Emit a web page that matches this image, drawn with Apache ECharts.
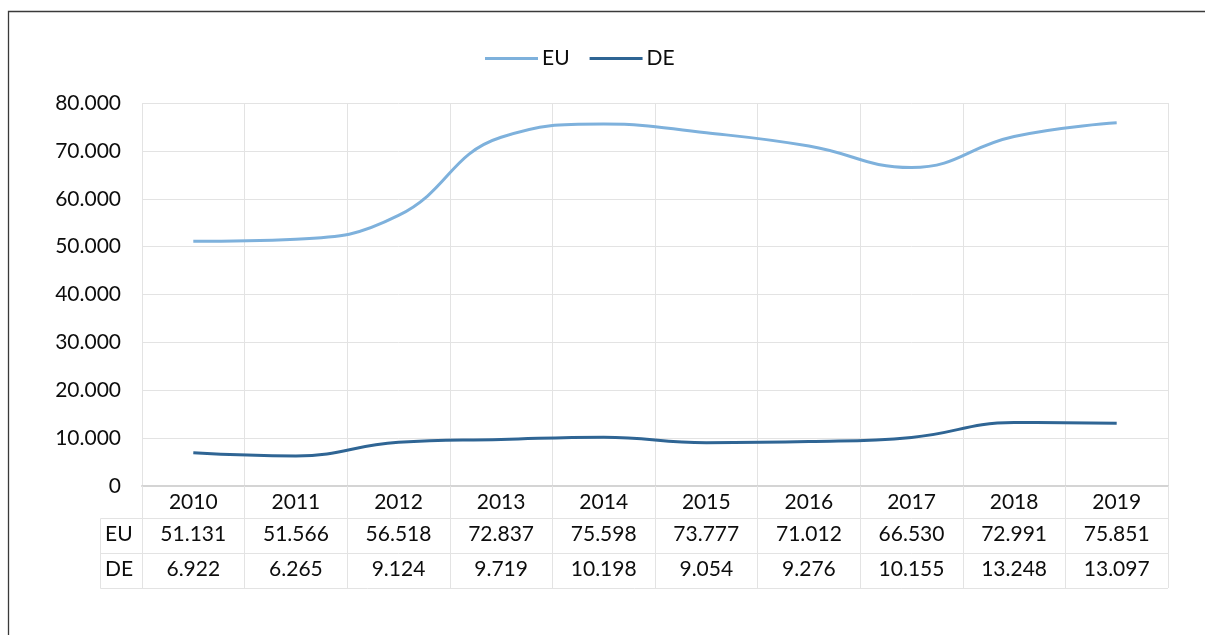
<!DOCTYPE html>
<html>
<head>
<meta charset="utf-8">
<script src="https://cdn.jsdelivr.net/npm/echarts@6/dist/echarts.min.js"></script>
<style>
  html, body { margin: 0; padding: 0; background: #fff; }
  #chart { width: 1205px; height: 635px; }
</style>
</head>
<body>
<div id="chart"></div>
<script>
const years = ['2010', '2011', '2012', '2013', '2014', '2015', '2016', '2017', '2018', '2019']
const euValues = [51131, 51566, 56518, 72837, 75598, 73777, 71012, 66530, 72991, 75851]
const deValues = [6922, 6265, 9124, 9719, 10198, 9054, 9276, 10155, 13248, 13097]
const yTicks = { min: 0, max: 80000, interval: 10000 }

// 51131 -> "51.131"
function fmt(v) {
  if (v < 1000) return String(v)
  const r = String(v % 1000).padStart(3, '0')
  return Math.floor(v / 1000) + '.' + r
}

const chart = echarts.init(document.getElementById('chart'))
const font = 'Lato, "Open Sans", sans-serif'
const fs = 21
const gridLine = '#e3e3e3'
const ink = '#0d0d0d'
const euColor = '#7eb1dc'
const deColor = '#2f6594'

const tableAxis = (data, offset) => ({
  type: 'category',
  position: 'bottom',
  offset: offset,
  data: data,
  axisLine: { show: true, lineStyle: { color: gridLine, width: 1 } },
  axisTick: { show: true, length: 35, lineStyle: { color: gridLine } },
  axisLabel: { color: ink, fontSize: fs, fontFamily: font, margin: 6 },
  splitLine: { show: false }
})

chart.setOption({
  animation: false,
  textStyle: { fontFamily: font },
  legend: {
    top: 48,
    left: 485,
    padding: 0,
    icon: 'rect',
    itemWidth: 53,
    itemHeight: 3,
    itemGap: 20,
    textStyle: { fontSize: fs, color: ink, fontFamily: font, padding: [0, 0, 0, -1] },
    data: ['EU', 'DE']
  },
  grid: { left: 142, right: 37, top: 103, bottom: 149 },
  xAxis: [
    {
      type: 'category',
      data: years,
      axisLine: { lineStyle: { color: '#d4d4d4', width: 2 } },
      axisTick: { show: true, length: 32, lineStyle: { color: gridLine } },
      axisLabel: { color: ink, fontSize: fs, fontFamily: font, margin: 6 },
      splitLine: { show: true, lineStyle: { color: gridLine } }
    },
    tableAxis(euValues.map(fmt), 32),
    tableAxis(deValues.map(fmt), 67)
  ],
  yAxis: {
    type: 'value',
    min: yTicks.min,
    max: yTicks.max,
    interval: yTicks.interval,
    axisLine: { show: false },
    axisTick: { show: false },
    axisLabel: { color: ink, fontSize: fs, fontFamily: font, margin: 21, formatter: fmt },
    splitLine: { lineStyle: { color: gridLine } }
  },
  series: [
    {
      name: 'EU',
      type: 'line',
      data: euValues,
      smooth: 0.45,
      symbol: 'none',
      lineStyle: { color: euColor, width: 3 },
      itemStyle: { color: euColor }
    },
    {
      name: 'DE',
      type: 'line',
      data: deValues,
      smooth: 0.45,
      symbol: 'none',
      lineStyle: { color: deColor, width: 3 },
      itemStyle: { color: deColor }
    }
  ],
  graphic: [
    // outer frame
    { type: 'rect', shape: { x: 8.5, y: 11.5, width: 1210, height: 640 }, style: { fill: 'none', stroke: '#3a3a3a', lineWidth: 1.3 }, silent: true },
    // row header cells of the data table
    { type: 'line', shape: { x1: 100.5, y1: 518.5, x2: 142, y2: 518.5 }, style: { stroke: gridLine } },
    { type: 'line', shape: { x1: 100.5, y1: 553.5, x2: 142, y2: 553.5 }, style: { stroke: gridLine } },
    { type: 'line', shape: { x1: 100.5, y1: 588.5, x2: 1168, y2: 588.5 }, style: { stroke: gridLine } },
    { type: 'line', shape: { x1: 100.5, y1: 518.5, x2: 100.5, y2: 588.5 }, style: { stroke: gridLine } },
    { type: 'text', left: 105, top: 524, style: { text: 'EU', fontSize: fs, fontFamily: font, fill: ink } },
    { type: 'text', left: 105, top: 559, style: { text: 'DE', fontSize: fs, fontFamily: font, fill: ink } }
  ]
})
</script>
</body>
</html>
